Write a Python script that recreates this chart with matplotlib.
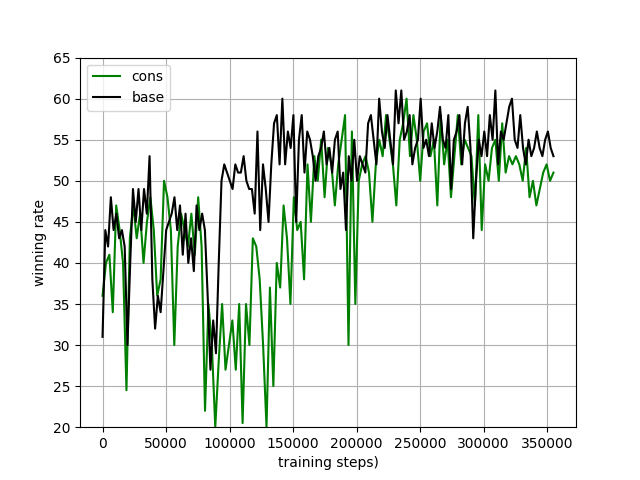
import numpy as np
import matplotlib
matplotlib.use("Agg")
import matplotlib.pyplot as plt

# winning rate samples
base_rate = [31, 44, 42, 48, 44, 46, 43, 44, 42, 30, 40, 49, 45, 49, 44, 49, 46, 53, 38, 32,
             36, 34, 39, 44, 45, 46, 48, 44, 47, 41, 46, 40, 43, 39, 47, 44, 46, 44, 36, 27,
             33, 29, 40, 50, 52, 51, 50, 49, 52, 51, 51, 53, 50, 49, 49, 46, 56, 44, 52, 49,
             45, 52, 57, 58, 52, 60, 52, 56, 54, 58, 45, 55, 58, 51, 56, 55, 53, 50, 53, 54,
             56, 52, 54, 51, 55, 56, 49, 51, 44, 53, 50, 55, 50, 53, 52, 51, 57, 58, 55, 52,
             60, 56, 54, 58, 55, 52, 61, 57, 61, 55, 56, 58, 52, 54, 55, 60, 54, 55, 53, 57,
             54, 56, 59, 55, 54, 58, 49, 55, 56, 58, 52, 57, 59, 54, 43, 50, 55, 53, 56, 53,
             58, 55, 61, 52, 56, 55, 57, 59, 60, 55, 54, 58, 54, 52, 55, 53, 54, 56, 54, 53,
             55, 56, 54, 53]
cons_rate = [36, 40, 41, 34, 47, 44, 40, 24.5, 43, 47, 43, 46, 40, 45, 48, 44, 36, 38, 50, 48,
             44, 30, 42, 46, 44, 42, 46, 41, 48, 42, 22, 35, 30, 20, 28, 35, 27, 30, 33, 27,
             35, 20.5, 35, 30, 43, 42, 38, 30, 20, 37, 25, 40, 37, 47, 43, 35, 48, 44, 45, 38,
             52, 45, 53, 50, 55, 48, 54, 52, 47, 52, 55, 58, 30, 56, 35, 50, 52, 53, 51, 45,
             52, 55, 53, 58, 55, 52, 47, 55, 57, 60, 53, 58, 55, 50, 56, 57, 53, 55, 47, 58,
             52, 55, 48, 53, 58, 52, 55, 54, 53, 47, 58, 44, 52, 50, 54, 55, 50, 57, 51, 53,
             52, 53, 52, 50, 54, 48, 50, 47, 49, 51, 52, 50, 51]

last_step = 355000
base_steps = np.linspace(0, last_step, len(base_rate))
cons_steps = np.linspace(0, last_step, len(cons_rate))

fig, ax = plt.subplots(figsize=(6.4, 4.8), dpi=100)
ax.plot(cons_steps, cons_rate, color="green", label="cons")
ax.plot(base_steps, base_rate, color="black", label="base")
ax.set_ylim(20, 65)
ax.set_xlabel("training steps)")
ax.set_ylabel("winning rate")
ax.grid(True)
ax.legend(loc="upper left")
fig.savefig("out.png")
